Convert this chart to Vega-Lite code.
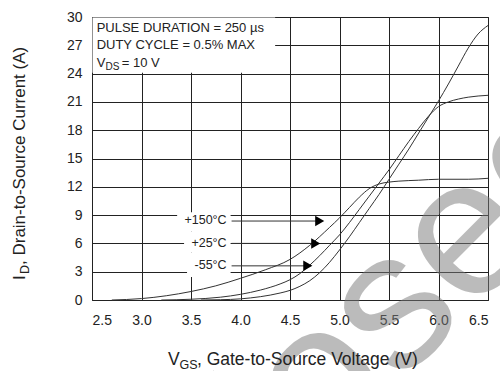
{
  "$schema": "https://vega.github.io/schema/vega-lite/v6.json",
  "width": 396,
  "height": 283,
  "autosize": {"type": "none"},
  "padding": {"left": 92, "top": 17, "right": 12, "bottom": 71},
  "background": "white",
  "config": {
    "font": "Liberation Sans",
    "view": {"stroke": "#222", "strokeWidth": 1},
    "axis": {
      "title": null,
      "ticks": false,
      "domain": false,
      "grid": true,
      "gridColor": "#222",
      "gridOpacity": 1,
      "gridWidth": 1,
      "labelFont": "Liberation Sans",
      "labelFontSize": 14,
      "labelColor": "#222",
      "labelOverlap": false,
      "labelPadding": 10
    },
    "axisX": {"labelPadding": 13}
  },
  "datasets": {
    "curves": [
      {"s": "+150", "v": 2.7, "i": 0},
      {"s": "+150", "v": 3.0, "i": 0.15},
      {"s": "+150", "v": 3.25, "i": 0.45},
      {"s": "+150", "v": 3.5, "i": 0.9},
      {"s": "+150", "v": 3.75, "i": 1.5},
      {"s": "+150", "v": 4.0, "i": 2.3},
      {"s": "+150", "v": 4.25, "i": 3.2},
      {"s": "+150", "v": 4.5, "i": 4.3},
      {"s": "+150", "v": 4.7, "i": 5.8},
      {"s": "+150", "v": 4.9, "i": 7.7},
      {"s": "+150", "v": 5.0, "i": 8.7},
      {"s": "+150", "v": 5.1, "i": 9.8},
      {"s": "+150", "v": 5.2, "i": 10.9},
      {"s": "+150", "v": 5.3, "i": 11.8},
      {"s": "+150", "v": 5.4, "i": 12.3},
      {"s": "+150", "v": 5.5, "i": 12.5},
      {"s": "+150", "v": 5.6, "i": 12.6},
      {"s": "+150", "v": 5.8, "i": 12.7},
      {"s": "+150", "v": 6.0, "i": 12.8},
      {"s": "+150", "v": 6.3, "i": 12.8},
      {"s": "+150", "v": 6.5, "i": 12.9},
      {"s": "+25", "v": 3.2, "i": 0},
      {"s": "+25", "v": 3.5, "i": 0.08},
      {"s": "+25", "v": 3.8, "i": 0.3},
      {"s": "+25", "v": 4.0, "i": 0.6},
      {"s": "+25", "v": 4.2, "i": 1.05},
      {"s": "+25", "v": 4.4, "i": 1.7},
      {"s": "+25", "v": 4.5, "i": 2.15},
      {"s": "+25", "v": 4.6, "i": 2.8},
      {"s": "+25", "v": 4.7, "i": 3.7},
      {"s": "+25", "v": 4.8, "i": 4.7},
      {"s": "+25", "v": 4.9, "i": 5.8},
      {"s": "+25", "v": 5.0, "i": 6.9},
      {"s": "+25", "v": 5.1, "i": 8.2},
      {"s": "+25", "v": 5.2, "i": 9.6},
      {"s": "+25", "v": 5.3, "i": 11.0},
      {"s": "+25", "v": 5.4, "i": 12.4},
      {"s": "+25", "v": 5.5, "i": 13.8},
      {"s": "+25", "v": 5.6, "i": 15.3},
      {"s": "+25", "v": 5.7, "i": 16.8},
      {"s": "+25", "v": 5.8, "i": 18.2},
      {"s": "+25", "v": 5.9, "i": 19.5},
      {"s": "+25", "v": 6.0, "i": 20.5},
      {"s": "+25", "v": 6.1, "i": 21.0},
      {"s": "+25", "v": 6.2, "i": 21.3},
      {"s": "+25", "v": 6.3, "i": 21.5},
      {"s": "+25", "v": 6.5, "i": 21.7},
      {"s": "-55", "v": 3.6, "i": 0},
      {"s": "-55", "v": 3.8, "i": 0.03},
      {"s": "-55", "v": 4.0, "i": 0.12},
      {"s": "-55", "v": 4.1, "i": 0.22},
      {"s": "-55", "v": 4.2, "i": 0.35},
      {"s": "-55", "v": 4.3, "i": 0.52},
      {"s": "-55", "v": 4.4, "i": 0.74},
      {"s": "-55", "v": 4.5, "i": 1.02},
      {"s": "-55", "v": 4.6, "i": 1.45},
      {"s": "-55", "v": 4.7, "i": 2.05},
      {"s": "-55", "v": 4.8, "i": 2.9},
      {"s": "-55", "v": 4.9, "i": 4.0},
      {"s": "-55", "v": 5.0, "i": 5.3},
      {"s": "-55", "v": 5.1, "i": 6.7},
      {"s": "-55", "v": 5.2, "i": 8.2},
      {"s": "-55", "v": 5.3, "i": 9.7},
      {"s": "-55", "v": 5.4, "i": 11.2},
      {"s": "-55", "v": 5.5, "i": 12.8},
      {"s": "-55", "v": 5.6, "i": 14.4},
      {"s": "-55", "v": 5.7, "i": 16.0},
      {"s": "-55", "v": 5.8, "i": 17.7},
      {"s": "-55", "v": 5.9, "i": 19.4},
      {"s": "-55", "v": 6.0, "i": 21.1},
      {"s": "-55", "v": 6.1, "i": 22.9},
      {"s": "-55", "v": 6.2, "i": 24.8},
      {"s": "-55", "v": 6.3, "i": 26.7},
      {"s": "-55", "v": 6.4, "i": 28.2},
      {"s": "-55", "v": 6.5, "i": 29.1}
    ],
    "masks": [
      {"x0": 2.505, "x1": 4.35, "y0": 24.1, "y1": 29.95},
      {"x0": 3.36, "x1": 3.9, "y0": 7.3, "y1": 9.3},
      {"x0": 3.43, "x1": 3.9, "y0": 5.0, "y1": 7.3},
      {"x0": 3.46, "x1": 3.9, "y0": 2.45, "y1": 5.0}
    ],
    "arrows": [
      {"t": "+150\u00b0C", "lx": 3.86, "ly": 8.5, "x0": 3.91, "x1": 4.78, "ay": 8.37, "hx": 4.80},
      {"t": "+25\u00b0C", "lx": 3.86, "ly": 6.05, "x0": 3.91, "x1": 4.75, "ay": 6.0, "hx": 4.76},
      {"t": "-55\u00b0C", "lx": 3.86, "ly": 3.7, "x0": 3.91, "x1": 4.66, "ay": 3.62, "hx": 4.68}
    ],
    "notes": [
      {"g": "main", "t": "PULSE DURATION = 250 \u00b5s", "x": 2.547, "y": 28.85},
      {"g": "main", "t": "DUTY CYCLE = 0.5% MAX", "x": 2.547, "y": 27.0},
      {"g": "main", "t": "V", "x": 2.547, "y": 25.1},
      {"g": "sub", "t": "DS", "x": 2.637, "y": 24.65},
      {"g": "main", "t": "= 10 V", "x": 2.80, "y": 25.1}
    ],
    "titles": [
      {"g": "xmain", "t": "V", "x": 3.268, "y": -6.89},
      {"g": "xsub", "t": "GS", "x": 3.384, "y": -7.32},
      {"g": "xmain", "t": ", Gate-to-Source Voltage (V)", "x": 3.56, "y": -6.89},
      {"g": "ymain", "t": "I", "x": 1.823, "y": 2.12},
      {"g": "ysub", "t": "D", "x": 1.864, "y": 2.76},
      {"g": "ymain", "t": ", Drain-to-Source Current (A)", "x": 1.823, "y": 3.71}
    ],
    "mark": [
      {"t": "Closed", "x": 5.26, "y": -3.7}
    ]
  },
  "layer": [
    {
      "data": {"name": "curves"},
      "mark": {"type": "line", "color": "#333", "strokeWidth": 1, "interpolate": "monotone"},
      "encoding": {
        "x": {"field": "v", "type": "quantitative", "scale": {"domain": [2.5, 6.5], "nice": false, "zero": false},
              "axis": {"values": [2.5, 3.0, 3.5, 4.0, 4.5, 5.0, 5.5, 6.0, 6.5], "format": ".1f"}},
        "y": {"field": "i", "type": "quantitative", "scale": {"domain": [0, 30], "nice": false},
              "axis": {"values": [0, 3, 6, 9, 12, 15, 18, 21, 24, 27, 30]}},
        "detail": {"field": "s"}
      }
    },
    {
      "data": {"name": "mark"},
      "mark": {"type": "text", "font": "Liberation Sans", "fontSize": 195, "angle": 315, "align": "center", "baseline": "middle", "color": "#7a7a7a", "opacity": 0.5},
      "encoding": {
        "x": {"field": "x", "type": "quantitative", "scale": {"domain": [2.5, 6.5], "nice": false, "zero": false},
              "axis": {"values": [2.5, 3.0, 3.5, 4.0, 4.5, 5.0, 5.5, 6.0, 6.5], "format": ".1f"}},
        "y": {"field": "y", "type": "quantitative", "scale": {"domain": [0, 30], "nice": false},
              "axis": {"values": [0, 3, 6, 9, 12, 15, 18, 21, 24, 27, 30]}},
        "text": {"field": "t"}
      }
    },
    {
      "data": {"name": "masks"},
      "mark": {"type": "rect", "color": "white"},
      "encoding": {
        "x": {"field": "x0", "type": "quantitative", "scale": {"domain": [2.5, 6.5], "nice": false, "zero": false},
              "axis": {"values": [2.5, 3.0, 3.5, 4.0, 4.5, 5.0, 5.5, 6.0, 6.5], "format": ".1f"}},
        "x2": {"field": "x1"},
        "y": {"field": "y0", "type": "quantitative", "scale": {"domain": [0, 30], "nice": false},
              "axis": {"values": [0, 3, 6, 9, 12, 15, 18, 21, 24, 27, 30]}},
        "y2": {"field": "y1"}
      }
    },
    {
      "data": {"name": "arrows"},
      "mark": {"type": "rule", "color": "#333", "strokeWidth": 1},
      "encoding": {
        "x": {"field": "x0", "type": "quantitative", "scale": {"domain": [2.5, 6.5], "nice": false, "zero": false},
              "axis": {"values": [2.5, 3.0, 3.5, 4.0, 4.5, 5.0, 5.5, 6.0, 6.5], "format": ".1f"}},
        "x2": {"field": "x1"},
        "y": {"field": "ay", "type": "quantitative", "scale": {"domain": [0, 30], "nice": false},
              "axis": {"values": [0, 3, 6, 9, 12, 15, 18, 21, 24, 27, 30]}}
      }
    },
    {
      "data": {"name": "arrows"},
      "mark": {"type": "point", "shape": "triangle-right", "filled": true, "color": "black", "opacity": 1, "size": 110},
      "encoding": {
        "x": {"field": "hx", "type": "quantitative", "scale": {"domain": [2.5, 6.5], "nice": false, "zero": false},
              "axis": {"values": [2.5, 3.0, 3.5, 4.0, 4.5, 5.0, 5.5, 6.0, 6.5], "format": ".1f"}},
        "y": {"field": "ay", "type": "quantitative", "scale": {"domain": [0, 30], "nice": false},
              "axis": {"values": [0, 3, 6, 9, 12, 15, 18, 21, 24, 27, 30]}}
      }
    },
    {
      "data": {"name": "arrows"},
      "mark": {"type": "text", "font": "Liberation Sans", "fontSize": 12.5, "align": "right", "baseline": "middle", "color": "#222"},
      "encoding": {
        "x": {"field": "lx", "type": "quantitative", "scale": {"domain": [2.5, 6.5], "nice": false, "zero": false},
              "axis": {"values": [2.5, 3.0, 3.5, 4.0, 4.5, 5.0, 5.5, 6.0, 6.5], "format": ".1f"}},
        "y": {"field": "ly", "type": "quantitative", "scale": {"domain": [0, 30], "nice": false},
              "axis": {"values": [0, 3, 6, 9, 12, 15, 18, 21, 24, 27, 30]}},
        "text": {"field": "t"}
      }
    },
    {
      "data": {"name": "notes"},
      "transform": [{"filter": "datum.g === 'main'"}],
      "mark": {"type": "text", "font": "Liberation Sans", "fontSize": 13, "align": "left", "baseline": "middle", "color": "#222"},
      "encoding": {
        "x": {"field": "x", "type": "quantitative", "scale": {"domain": [2.5, 6.5], "nice": false, "zero": false},
              "axis": {"values": [2.5, 3.0, 3.5, 4.0, 4.5, 5.0, 5.5, 6.0, 6.5], "format": ".1f"}},
        "y": {"field": "y", "type": "quantitative", "scale": {"domain": [0, 30], "nice": false},
              "axis": {"values": [0, 3, 6, 9, 12, 15, 18, 21, 24, 27, 30]}},
        "text": {"field": "t"}
      }
    },
    {
      "data": {"name": "notes"},
      "transform": [{"filter": "datum.g === 'sub'"}],
      "mark": {"type": "text", "font": "Liberation Sans", "fontSize": 10, "align": "left", "baseline": "middle", "color": "#222"},
      "encoding": {
        "x": {"field": "x", "type": "quantitative", "scale": {"domain": [2.5, 6.5], "nice": false, "zero": false},
              "axis": {"values": [2.5, 3.0, 3.5, 4.0, 4.5, 5.0, 5.5, 6.0, 6.5], "format": ".1f"}},
        "y": {"field": "y", "type": "quantitative", "scale": {"domain": [0, 30], "nice": false},
              "axis": {"values": [0, 3, 6, 9, 12, 15, 18, 21, 24, 27, 30]}},
        "text": {"field": "t"}
      }
    },
    {
      "data": {"name": "titles"},
      "transform": [{"filter": "datum.g === 'xmain'"}],
      "mark": {"type": "text", "font": "Liberation Sans", "fontSize": 17.5, "align": "left", "baseline": "alphabetic", "color": "#222"},
      "encoding": {
        "x": {"field": "x", "type": "quantitative", "scale": {"domain": [2.5, 6.5], "nice": false, "zero": false},
              "axis": {"values": [2.5, 3.0, 3.5, 4.0, 4.5, 5.0, 5.5, 6.0, 6.5], "format": ".1f"}},
        "y": {"field": "y", "type": "quantitative", "scale": {"domain": [0, 30], "nice": false},
              "axis": {"values": [0, 3, 6, 9, 12, 15, 18, 21, 24, 27, 30]}},
        "text": {"field": "t"}
      }
    },
    {
      "data": {"name": "titles"},
      "transform": [{"filter": "datum.g === 'xsub'"}],
      "mark": {"type": "text", "font": "Liberation Sans", "fontSize": 12.5, "align": "left", "baseline": "alphabetic", "color": "#222"},
      "encoding": {
        "x": {"field": "x", "type": "quantitative", "scale": {"domain": [2.5, 6.5], "nice": false, "zero": false},
              "axis": {"values": [2.5, 3.0, 3.5, 4.0, 4.5, 5.0, 5.5, 6.0, 6.5], "format": ".1f"}},
        "y": {"field": "y", "type": "quantitative", "scale": {"domain": [0, 30], "nice": false},
              "axis": {"values": [0, 3, 6, 9, 12, 15, 18, 21, 24, 27, 30]}},
        "text": {"field": "t"}
      }
    },
    {
      "data": {"name": "titles"},
      "transform": [{"filter": "datum.g === 'ymain'"}],
      "mark": {"type": "text", "font": "Liberation Sans", "fontSize": 17, "angle": 270, "align": "left", "baseline": "alphabetic", "color": "#222"},
      "encoding": {
        "x": {"field": "x", "type": "quantitative", "scale": {"domain": [2.5, 6.5], "nice": false, "zero": false},
              "axis": {"values": [2.5, 3.0, 3.5, 4.0, 4.5, 5.0, 5.5, 6.0, 6.5], "format": ".1f"}},
        "y": {"field": "y", "type": "quantitative", "scale": {"domain": [0, 30], "nice": false},
              "axis": {"values": [0, 3, 6, 9, 12, 15, 18, 21, 24, 27, 30]}},
        "text": {"field": "t"}
      }
    },
    {
      "data": {"name": "titles"},
      "transform": [{"filter": "datum.g === 'ysub'"}],
      "mark": {"type": "text", "font": "Liberation Sans", "fontSize": 12.5, "angle": 270, "align": "left", "baseline": "alphabetic", "color": "#222"},
      "encoding": {
        "x": {"field": "x", "type": "quantitative", "scale": {"domain": [2.5, 6.5], "nice": false, "zero": false},
              "axis": {"values": [2.5, 3.0, 3.5, 4.0, 4.5, 5.0, 5.5, 6.0, 6.5], "format": ".1f"}},
        "y": {"field": "y", "type": "quantitative", "scale": {"domain": [0, 30], "nice": false},
              "axis": {"values": [0, 3, 6, 9, 12, 15, 18, 21, 24, 27, 30]}},
        "text": {"field": "t"}
      }
    }
  ]
}
